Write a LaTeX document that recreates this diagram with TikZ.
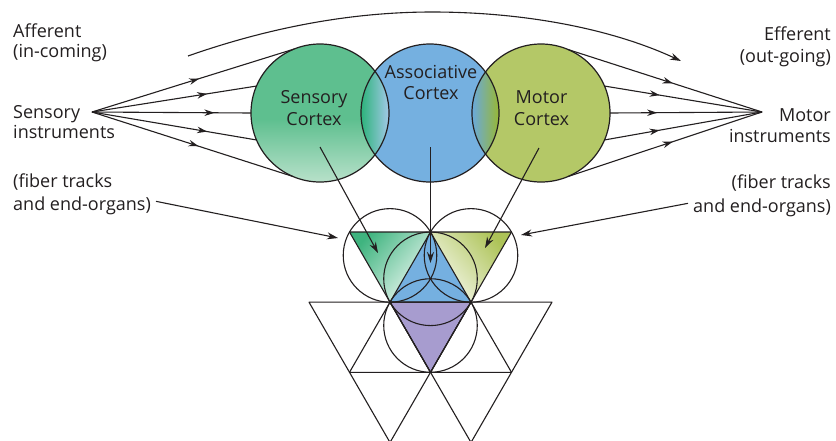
\documentclass[tikz,border=0pt]{standalone}
\usepackage{fontspec}
\setmainfont{Open Sans}
\usetikzlibrary{arrows.meta,decorations.markings}

\definecolor{ink}{HTML}{231F20}
\definecolor{sensgreen}{HTML}{5EBF8F}
\definecolor{senslight}{HTML}{B8E1CA}
\definecolor{assocblue}{HTML}{75B0E0}
\definecolor{motorolive}{HTML}{B4C867}
\definecolor{lensgreen}{HTML}{2DB37B}
\definecolor{lensblue}{HTML}{A3C9E8}
\definecolor{lensblueL}{HTML}{6AA9DC}
\definecolor{lensolive}{HTML}{98B833}
\definecolor{purp}{HTML}{A79CCF}
\definecolor{trigreen}{HTML}{3FB47F}
\definecolor{triolive}{HTML}{ADC357}

\tikzset{
  lbl/.style={font=\fontsize{18}{21}\selectfont, text=ink, inner sep=0pt},
  cortex/.style={circle, minimum size=138pt, inner sep=0pt, outer sep=0pt},
  rim/.style={draw=ink, line width=1.2pt},
  fibre/.style={draw=ink, line width=1.1pt},
  midarrow/.style={postaction={decorate},
    decoration={markings, mark=at position #1 with {\arrow{Stealth[length=10pt,width=6.5pt]}}}},
  tipped/.style={-{Stealth[length=11pt,width=7pt]}},
  lattice/.style={draw=ink, line width=1.1pt, line join=round},
}

\begin{document}
\begin{tikzpicture}[x=1pt,y=-1pt]
\useasboundingbox (0,0) rectangle (836,440);
\fill[white] (0,0) rectangle (836,440);

% ---- cortex circles -------------------------------------------------
\node[cortex, fill=assocblue] (ac) at (430,113) {};
\node[cortex, fill=motorolive] (mc) at (541,113) {};
\node[cortex, fill=sensgreen] (sc) at (320,113) {};
\begin{scope}
  \clip (sc.center) circle[radius=69pt];
  \shade[top color=sensgreen, bottom color=senslight]
    ([yshift=-6pt]sc.west) rectangle (sc.east |- sc.south);
\end{scope}

% overlapping lenses
\begin{scope}
  \clip (ac.center) circle[radius=69pt];
  \clip (sc.center) circle[radius=69pt];
  \shade[left color=lensgreen, right color=lensblue]
    (ac.west |- sc.north) rectangle (sc.east |- sc.south);
\end{scope}
\begin{scope}
  \clip (ac.center) circle[radius=69pt];
  \clip (mc.center) circle[radius=69pt];
  \shade[left color=lensblueL, right color=lensolive]
    (mc.west |- mc.north) rectangle (ac.east |- ac.south);
\end{scope}

\draw[rim] (sc.center) circle[radius=69pt];
\draw[rim] (ac.center) circle[radius=69pt];
\draw[rim] (mc.center) circle[radius=69pt];

\node[lbl, anchor=base] (sl1) at (314,103) {Sensory};
\node[lbl, anchor=base] (sl2) at (314,125) {Cortex};
\node[lbl, anchor=base] (al1) at (431,78) {Associative};
\node[lbl, anchor=base] (al2) at (431,99) {Cortex};
\node[lbl, anchor=base] (ml1) at (541.5,103) {Motor};
\node[lbl, anchor=base] (ml2) at (541.5,125) {Cortex};

% ---- side labels ----------------------------------------------------
\node[lbl, anchor=base west] (aff1) at (13,37) {Afferent};
\node[lbl, anchor=base west] (aff2) at (13,57) {(in-coming)};
\node[lbl, anchor=base west] (si1) at (13,118) {Sensory};
\node[lbl, anchor=base west] (si2) at (13,138) {instruments};
\node[lbl, anchor=base west] (lf1) at (13,187) {(fiber tracks};
\node[lbl, anchor=base west] (lf2) at (13,210) {and end-organs)};

\node[lbl, anchor=base east] (eff1) at (831,40) {Efferent};
\node[lbl, anchor=base east] (eff2) at (831,62) {(out-going)};
\node[lbl, anchor=base east] (mi1) at (831,121) {Motor};
\node[lbl, anchor=base east] (mi2) at (831,142) {instruments};
\node[lbl, anchor=base east] (rf1) at (831,188) {(fiber tracks};
\node[lbl, anchor=base east] (rf2) at (831,212) {and end-organs)};

% ---- afferent / efferent fans ---------------------------------------
\coordinate (sens) at (92,112);
\coordinate (mot) at (762,112);

\draw[fibre, midarrow=0.53] (sens) -- (sc.112.5);
\draw[fibre, midarrow=0.70] (sens) -- (sc.157);
\draw[fibre, midarrow=0.77] (sens) -- (sc.180);
\draw[fibre, midarrow=0.70] (sens) -- (sc.203);
\draw[fibre, midarrow=0.53] (sens) -- (sc.247.5);

\draw[fibre, midarrow=0.54] (mc.67.5) -- (mot);
\draw[fibre, midarrow=0.35] (mc.23) -- (mot);
\draw[fibre, midarrow=0.31] (mc.0) -- (mot);
\draw[fibre, midarrow=0.35] (mc.-23) -- (mot);
\draw[fibre, midarrow=0.54] (mc.-67.5) -- (mot);

% overarching sweep
\coordinate (arcA) at (188,56);
\coordinate (arcM) at (432,12);
\coordinate (arcB) at (681,61);
\draw[fibre, tipped] (arcA) .. controls (262,30) and (345,12) .. (arcM)
  .. controls (522,12) and (610,28) .. (arcB);

% ---- triangle lattice -----------------------------------------------
\coordinate (T1) at (349.5,232);
\coordinate (T2) at (430.5,232);
\coordinate (T3) at (511.5,232);
\coordinate (M0) at (309,302.15);
\coordinate (M1) at (390,302.15);
\coordinate (M2) at (471,302.15);
\coordinate (M3) at (552,302.15);
\coordinate (B0) at (349.5,372.3);
\coordinate (B1) at (430.5,372.3);
\coordinate (B2) at (511.5,372.3);
\coordinate (L1) at (390,442.45);
\coordinate (L2) at (471,442.45);

\shade[top color=trigreen, bottom color=white!90!trigreen, shading angle=50]
  (T1) -- (T2) -- (M1) -- cycle;
\shade[top color=triolive, bottom color=white!90!triolive, shading angle=-50]
  (T2) -- (T3) -- (M2) -- cycle;
\fill[assocblue] (T2) -- (M1) -- (M2) -- cycle;
\fill[purp] (M1) -- (M2) -- (B1) -- cycle;

% circumcircles of the four small triangles
\coordinate (cg) at (390,255.4);
\coordinate (co) at (471,255.4);
\coordinate (cb) at (430.5,278.8);
\coordinate (cp) at (430.5,325.5);
\draw[lattice] (cg) circle[radius=46.77pt];
\draw[lattice] (co) circle[radius=46.77pt];
\draw[lattice] (cb) circle[radius=46.77pt];
\draw[lattice] (cp) circle[radius=46.77pt];

\draw[lattice] (T1) -- (T3) -- (B1) -- cycle;
\draw[lattice] (T2) -- (M1) -- (M2) -- cycle;
\draw[lattice] (M0) -- (M2) -- (L1) -- cycle;
\draw[lattice] (M1) -- (B0) -- (B1) -- cycle;
\draw[lattice] (M1) -- (M3) -- (L2) -- cycle;
\draw[lattice] (M2) -- (B1) -- (B2) -- cycle;

% ---- projections from the cortices ----------------------------------
\coordinate (sp0) at (320,147);
\coordinate (sp1) at (378,253);
\coordinate (ap0) at (430.5,147);
\coordinate (ap1) at (430.5,263);
\coordinate (mp0) at (539,148);
\coordinate (mp1) at (485,248);
\draw[fibre, tipped] (sp0) -- (sp1);
\draw[fibre, tipped] (ap0) -- (ap1);
\draw[fibre, tipped] (mp0) -- (mp1);

\coordinate (lfe) at (338,238);
\coordinate (rfe) at (521,235);
\draw[fibre, tipped] (lf2.east) ++(5,-4) coordinate (lfs) -- (lfe);
\draw[fibre, tipped] (rf2.west) ++(-5,-4) coordinate (rfs) -- (rfe);
\end{tikzpicture}
\end{document}
